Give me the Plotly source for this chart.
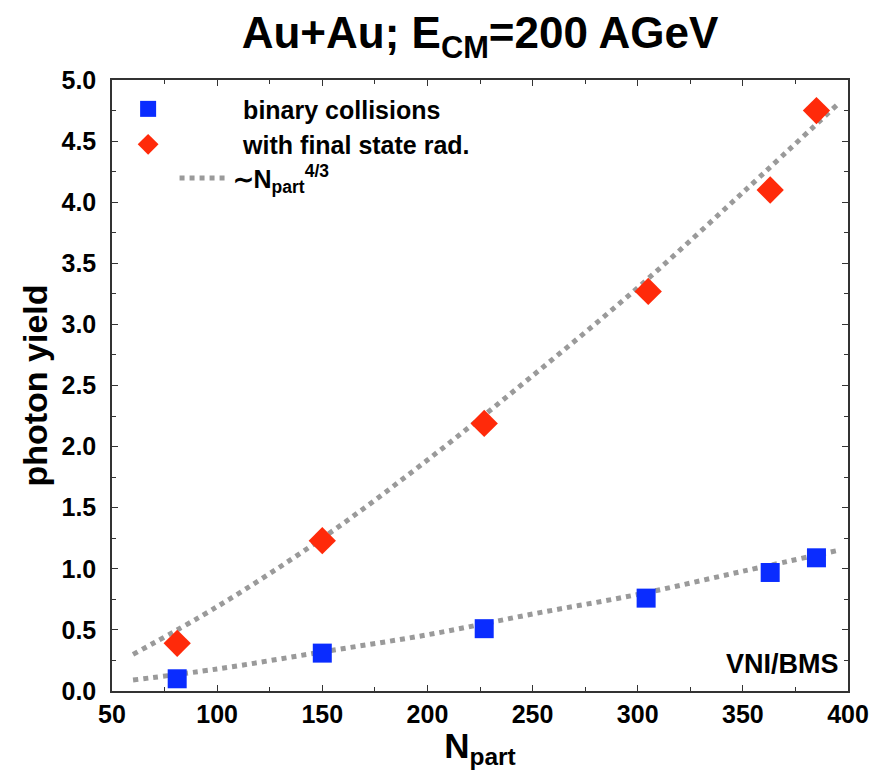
import plotly.graph_objects as go

# ---- data ----
npart_binary = [81, 150, 227, 304, 363, 385]
yield_binary = [0.10, 0.31, 0.51, 0.76, 0.97, 1.09]

npart_fsr = [81, 150, 227, 305, 363, 385]
yield_fsr = [0.39, 1.23, 2.19, 3.27, 4.10, 4.75]

npart_curve = [60, 100, 150, 200, 250, 300, 350, 395]
curve_fsr = [0.30, 0.69, 1.25, 1.89, 2.58, 3.30, 4.08, 4.80]
curve_binary = [0.09, 0.18, 0.32, 0.46, 0.63, 0.79, 0.98, 1.15]

x_ticks = [50, 100, 150, 200, 250, 300, 350, 400]
y_ticks = [0.0, 0.5, 1.0, 1.5, 2.0, 2.5, 3.0, 3.5, 4.0, 4.5, 5.0]

FONT = "Liberation Sans, Arial, Helvetica, sans-serif"
GRAY = "#9a9a9a"
BLUE = "#0a2cff"
RED = "#ff2a0a"

fig = go.Figure()

fig.add_trace(go.Scatter(
    x=npart_curve, y=curve_fsr, mode="lines", line_shape="spline",
    line=dict(color=GRAY, width=5, dash="dot"),
    name="∼N<sub>part</sub><sup>4/3</sup>", legend="legend2", showlegend=True,
))
fig.add_trace(go.Scatter(
    x=npart_curve, y=curve_binary, mode="lines", line_shape="spline",
    line=dict(color=GRAY, width=5, dash="dot"),
    name="∼N<sub>part</sub><sup>4/3</sup>", legend="legend2", showlegend=False,
))
fig.add_trace(go.Scatter(
    x=npart_binary, y=yield_binary, mode="markers",
    marker=dict(symbol="square", size=19, color=BLUE),
    name="binary collisions", legend="legend",
))
fig.add_trace(go.Scatter(
    x=npart_fsr, y=yield_fsr, mode="markers",
    marker=dict(symbol="diamond", size=21, color=RED),
    name="with final state rad.", legend="legend",
))

axis_common = dict(
    showgrid=False, zeroline=False, showline=True, linecolor="#333333", linewidth=1.5,
    mirror="allticks", ticks="inside", ticklen=6, tickwidth=1.2, tickcolor="#333333",
    tickfont=dict(family=FONT, size=25, color="black", weight="bold"),
)

fig.update_xaxes(
    range=[50, 400], tickmode="array", tickvals=x_ticks, ticktext=[str(v) for v in x_ticks],
    minor=dict(dtick=25, ticks="inside", ticklen=4, tickcolor="#333333"),
    title=dict(text="N<sub>part</sub>", font=dict(family=FONT, size=35, color="black", weight="bold"),
               standoff=2),
    **axis_common,
)
fig.update_yaxes(
    range=[0, 5], tickmode="array", tickvals=y_ticks, ticktext=[f"{v:.1f}" for v in y_ticks],
    minor=dict(dtick=0.25, ticks="inside", ticklen=4, tickcolor="#333333"),
    title=dict(text="photon yield", font=dict(family=FONT, size=34, color="black", weight="bold"),
               standoff=4),
    ticklabelstandoff=9,
    **axis_common,
)

fig.update_layout(
    width=886, height=770,
    margin=dict(l=112, r=38, t=80, b=79),
    paper_bgcolor="white", plot_bgcolor="white",
    title=dict(text="Au+Au; E<sub>CM</sub>=200 AGeV", x=0.5, xref="paper", xanchor="center",
               y=1 - 33 / 770, yref="container", yanchor="middle",
               font=dict(family=FONT, size=44, color="black", weight="bold")),
    legend=dict(x=-0.08, y=0.99, xanchor="left", yanchor="top", bgcolor="rgba(0,0,0,0)",
                itemwidth=180, tracegroupgap=0,
                font=dict(family=FONT, size=25, color="black", weight="bold")),
    legend2=dict(x=0.085, y=0.877, xanchor="left", yanchor="top", bgcolor="rgba(0,0,0,0)",
                 itemwidth=48,
                 font=dict(family=FONT, size=25, color="black", weight="bold")),
    annotations=[dict(text="VNI/BMS", xref="paper", yref="paper", x=0.99, y=0.045,
                      xanchor="right", yanchor="middle", showarrow=False,
                      font=dict(family=FONT, size=27, color="black", weight="bold"))],
)

fig.write_html("out.html")
